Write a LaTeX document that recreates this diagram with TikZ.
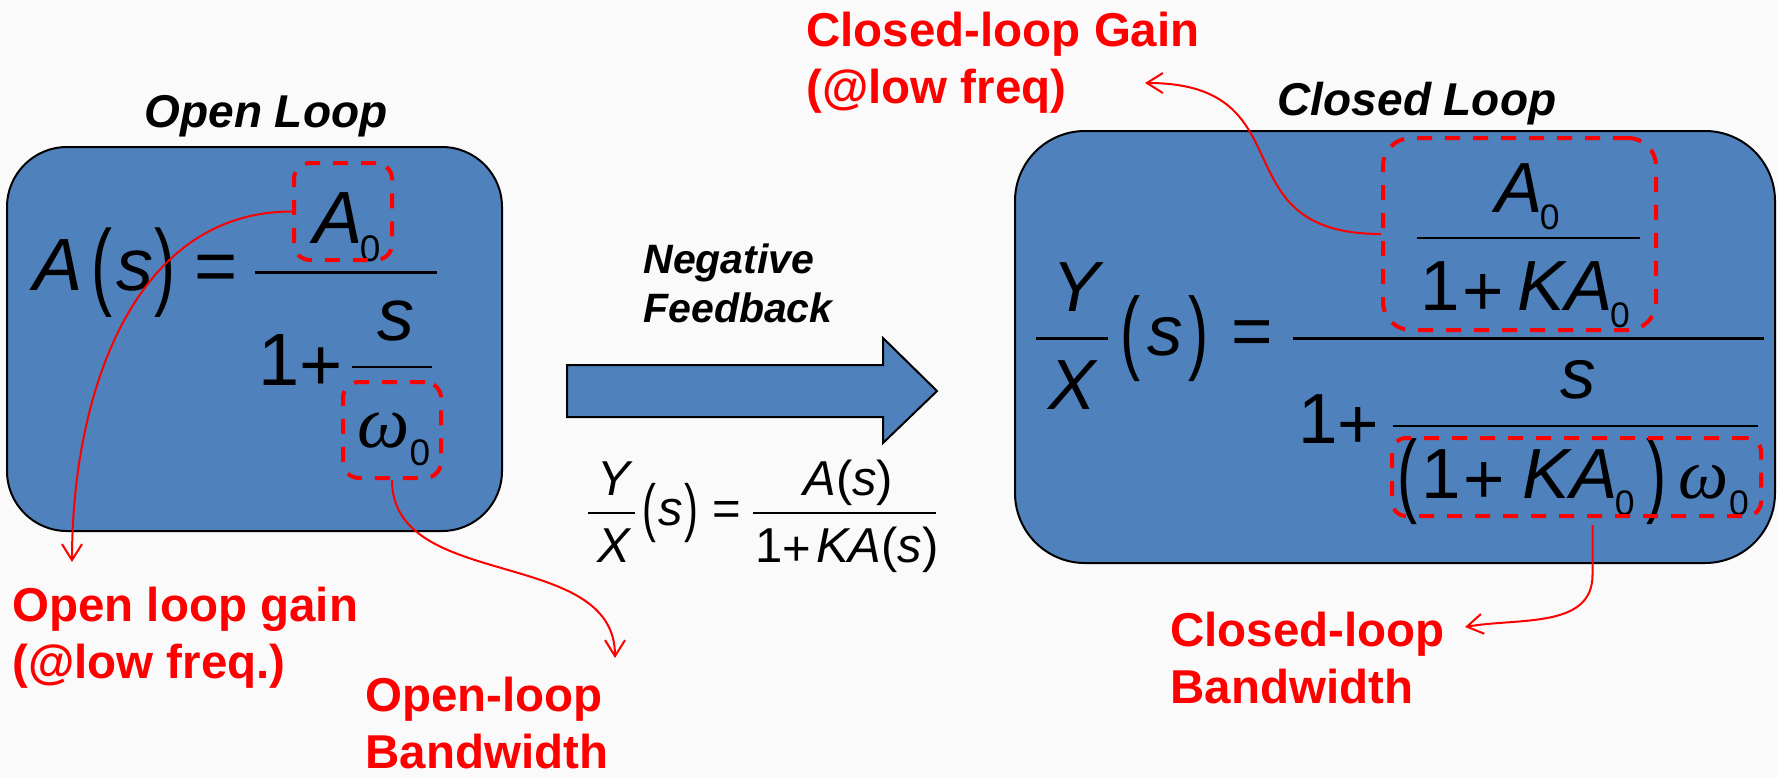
\documentclass[tikz,border=0pt]{standalone}
\usepackage{fontspec}
\setmainfont{Liberation Sans}
\newfontfamily\eqfont{Liberation Sans}
\newfontfamily\greekfont{Liberation Serif}
\usetikzlibrary{arrows.meta}
\definecolor{boxblue}{RGB}{79,129,189}
\definecolor{paper}{RGB}{250,250,250}
\newcommand{\lowsub}[1]{\raisebox{-0.25em}{\scalebox{0.5}{#1}}}
\newcommand{\lpar}{\raisebox{-0.1em}{\scalebox{0.85}[1.3]{(}}}
\newcommand{\rpar}{\raisebox{-0.1em}{\scalebox{0.85}[1.3]{)}}}
\newcommand{\plus}{\raisebox{-0.08em}{+}}
\newcommand{\om}{{\greekfont\itshape ω}}

\begin{document}
\begin{tikzpicture}[x=0.5pt, y=-0.5pt,
        panel/.style     = {draw, fill=boxblue, line width=1pt, inner sep=0},
        hlbox/.style     = {draw=red, line width=2pt, dash pattern=on 7.5pt off 6.5pt, inner sep=0},
        looptitle/.style = {font=\bfseries\itshape\fontsize{23pt}{28pt}\selectfont, inner sep=0, anchor=base},
        callout/.style   = {text=red, font=\bfseries\fontsize{23.75pt}{28.5pt}\selectfont, align=left, inner sep=0, anchor=base west},
        pointer/.style   = {draw=red, line width=1pt, -{Straight Barb[length=8pt,width=10pt]}},
        eqL/.style       = {inner sep=0, anchor=base west, font=\eqfont\fontsize{37pt}{37pt}\selectfont},
        eqR/.style       = {eqL, font=\eqfont\fontsize{35.5pt}{35.5pt}\selectfont},
        eqM/.style       = {eqL, font=\eqfont\fontsize{24.5pt}{24.5pt}\selectfont},
        fracbar/.style   = {line width=1.5pt},
        thinbar/.style   = {line width=1pt}]

    % page and the two loop panels
    \fill[paper] (0,0) rectangle (1777,778);
    \useasboundingbox (0,0) rectangle (1777,778);
    \node[panel, rounded corners=30pt, minimum width=247.5pt, minimum height=192pt] (olbox) at (254.5,339) {};
    \node[panel, rounded corners=35pt, minimum width=380pt, minimum height=216pt] (clbox) at (1395,347) {};

    \node[looptitle] (oltitle) at (266,127) {Open Loop};
    \node[looptitle] (cltitle) at (1417,115) {Closed Loop};

    % feedback arrow in the middle
    \draw[fill=boxblue, line width=1pt] (567,365) -- (883,365) -- (883,338) -- (937,391)
        -- (883,443) -- (883,417) -- (567,417) -- cycle;
    \node[looptitle, font=\bfseries\itshape\fontsize{20.5pt}{24.5pt}\selectfont, align=left, anchor=base west]
        (fbtext) at (643,322) {Negative\\Feedback};

    % open loop transfer function
    \node[eqL] (As) at (33,290) {\textit{A}\kern0.12em\lpar\kern0.05em\textit{s}\kern0.02em\rpar};
    \node[eqL, anchor=center] (eqa) at (216,273) {=};
    \draw[fracbar] (255,272) -- (437,272);
    \node[eqL] (A0) at (313,243) {\textit{A}\kern-0.04em\lowsub{0}};
    \node[eqL] (onea) at (258,385) {1\plus};
    \node[eqL] (sa) at (377,340) {\textit{s}};
    \draw[thinbar] (352,367) -- (432,367);
    \node[eqL] (w0) at (357,447) {\om\lowsub{0}};

    % feedback relation under the arrow
    \node[eqM] (Ym) at (597,495) {\textit{Y}};
    \node[eqM] (Xm) at (597,562) {\textit{X}};
    \draw[thinbar] (588,513) -- (635,513);
    \node[eqM] (sm) at (642,525) {\lpar\kern0.05em\textit{s}\kern0.02em\rpar};
    \node[eqM, anchor=center] (eqm) at (727,513) {=};
    \draw[thinbar] (753,513) -- (936,513);
    \node[eqM] (Asm) at (803,495) {\textit{A}(\textit{s})};
    \node[eqM] (denm) at (755,562) {1\plus\kern0.1em\textit{KA}(\textit{s})};

    % closed loop transfer function
    \node[eqR] (Y) at (1052,311) {\textit{Y}};
    \node[eqR] (X) at (1048,409) {\textit{X}};
    \draw[fracbar] (1036,338) -- (1108,338);
    \node[eqR] (sR) at (1120,355) {\lpar\kern0.1em\textit{s}\kern0.07em\rpar};
    \node[eqR, anchor=center] (eqc) at (1252,338) {=};
    \draw[fracbar] (1293,338) -- (1764,338);
    \node[eqR] (A0c) at (1495,212) {\textit{A}\kern-0.04em\lowsub{0}};
    \draw[thinbar] (1417,238) -- (1640,238);
    \node[eqR] (gainden) at (1420,310) {1\kern0.03em\plus\kern0.2em\textit{K}\kern-0.03em\textit{A}\kern-0.04em\lowsub{0}};
    \node[eqR] (oneR) at (1298,443) {1\plus};
    \node[eqR] (sR2) at (1560,398) {\textit{s}};
    \draw[thinbar] (1393,426) -- (1758,426);
    \node[eqR] (bwden) at (1397,498) {\lpar\kern0.06em 1\kern0.03em\plus\kern0.25em\textit{K}\kern-0.03em\textit{A}\kern-0.04em\lowsub{0}\kern0.17em\rpar\kern0.17em\om\lowsub{0}};

    % dashed marks round the terms
    \node[hlbox, rounded corners=8pt, minimum width=49pt, minimum height=48.5pt] (hlA) at (343,211.5) {};
    \node[hlbox, rounded corners=8pt, minimum width=49pt, minimum height=48pt] (hlw) at (392,430) {};
    \node[hlbox, rounded corners=14pt, minimum width=136.5pt, minimum height=96pt] (hlgain) at (1519.5,234) {};
    \node[hlbox, rounded corners=7pt, minimum width=184.5pt, minimum height=39pt] (hlbw) at (1576.5,477) {};

    % red labels
    \node[callout] (olgain) at (12,678) {Open loop gain\\(@low freq.)};
    \node[callout] (olbw) at (365,768) {Open-loop\\Bandwidth};
    \node[callout] (clgain) at (806,103) {Closed-loop Gain\\(@low freq)};
    \node[callout] (clbw) at (1170,703) {Closed-loop\\Bandwidth};

    \coordinate (tipA) at (72,562);
    \coordinate (tipw) at (615,658);
    \coordinate (tipgain) at (1145,83);
    \coordinate (tipbw) at (1465,627);

    % pointers from the marked terms to their labels
    \draw[pointer] (hlA.west) to[out=180, in=90] (tipA);
    \draw[pointer] (hlw.south) to[out=-90, in=90] (tipw);
    \draw[pointer] (hlgain.west) to[out=180, in=0, looseness=1.5] (tipgain);
    \draw[pointer] ([xshift=8pt, yshift=-3.5pt]hlbw.south) -- ++(0,50) to[out=-90, in=10] (tipbw);

\end{tikzpicture}
\end{document}
